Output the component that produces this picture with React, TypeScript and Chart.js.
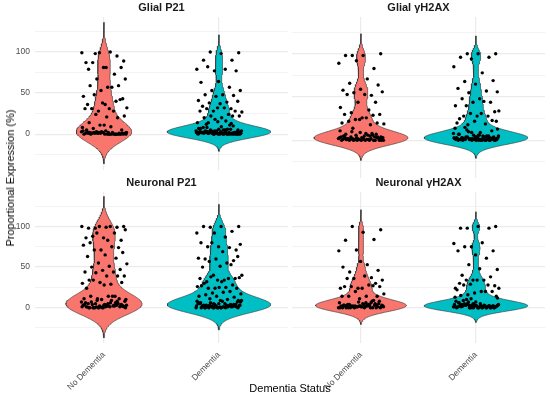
import { useEffect, useRef } from "react"
import { Chart, registerables } from "chart.js"

Chart.register(...registerables)

const groups = ["No Dementia", "Dementia"]
const groupColors = ["#F8766D", "#00BFC4"]
const yGridTicks = [-25, 0, 25, 50, 75, 100, 125]
const yLabelTicks = [0, 50, 100]
const yMin = -43.5
const yMax = 142.5

// Proportional expression (%) per case
const glialP21NoDementia = [
  98, 89, 81, 79, 95, 99, 99, 100, 87, 81, 81, 87, 73, 67, 67, 57, 59, 59, 53, 46, 57, 48, 43, 36, 36, 40, 28, 32,
  31, 31, 42, 38, 31, 28, 24, 22, 21, 14, 20, 11, 8, 9, 7, 5, 11, 5,
  0, 1, 0, 2, 0, 1, 3, 0, 2, 1, 0, 4, 1, 0, 2, 3, 0, 1, 0, 2, 1, 0, 3, 1, 0, 2, 0, 1, 4, 0, 2, 1, 0, 3, 0, 1, 2, 0, 1, 0,
]
const glialP21Dementia = [
  100, 99, 98, 90, 90, 77, 79, 79, 82, 77, 64, 63, 57, 53, 53, 48, 48, 47, 46, 41, 39, 38, 40, 37, 34, 31, 28, 27, 32,
  31, 28, 32, 28, 24, 22, 22, 20, 20, 22, 18, 14, 16, 14,
  0, 1, 2, 0, 3, 1, 5, 2, 0, 4, 1, 6, 2, 0, 3, 8, 1, 0, 2, 5, 3, 1, 0, 7, 2, 4, 0, 1, 3, 10, 2, 0, 5, 1, 3, 0, 2, 6, 1,
  4, 0, 12, 2, 1, 3, 0, 5, 2, 9, 1, 0, 4, 2, 3, 1, 0, 6, 2, 11, 1, 3, 0, 4, 2, 1, 7, 0, 3, 5, 1, 2, 13, 0, 4, 1, 8, 2,
  15, 3, 1,
]
const glialH2axNoDementia = [
  98, 100, 98, 98, 83, 92, 89, 71, 66, 64, 59, 58, 52, 55, 56, 53, 53, 44, 44, 38, 35, 32, 30, 26, 30, 29, 24, 19, 26,
  22, 20, 24, 20, 18, 14,
  0, 2, 1, 4, 0, 3, 6, 1, 2, 0, 5, 8, 1, 3, 0, 2, 7, 1, 4, 0, 10, 2, 1, 3, 0, 6, 2, 1, 0, 4, 9, 1, 2, 0, 3, 5, 1, 0, 2,
  11, 1, 4, 0, 3, 2, 6, 1, 0, 8, 2, 3, 1, 0, 5, 2, 4, 1, 7, 0, 3,
]
const glialH2axDementia = [
  100, 100, 100, 96, 96, 94, 85, 78, 68, 69, 65, 60, 57, 55, 56, 48, 48, 44, 44, 40, 45, 40, 33, 28, 25, 28, 31, 34,
  31, 28, 23, 22, 20, 19, 18, 22,
  0, 1, 3, 0, 2, 5, 1, 4, 0, 7, 2, 1, 3, 9, 0, 2, 6, 1, 4, 12, 0, 3, 1, 5, 2, 8, 0, 1, 3, 4, 2, 0, 10, 1, 6, 3, 0, 2,
  14, 1, 4, 0, 2, 7, 3, 1, 5, 0, 2, 11, 1, 3, 0, 4, 2, 6, 1, 0, 9, 3, 2, 15, 1, 4, 0, 5, 2, 13, 1, 3,
]
const neuronalP21NoDementia = [
  98, 100, 99, 98, 99, 100, 100, 100, 88, 83, 86, 86, 92, 92, 96, 83, 80, 74, 71, 77, 75, 71, 68, 65, 63, 61, 55, 54,
  51, 50, 47, 46, 44, 44, 43, 39, 39, 34, 39, 31, 30, 29, 34, 31, 28, 24, 14, 11, 10, 14, 14, 11, 10, 11, 14,
  0, 2, 1, 5, 3, 0, 7, 1, 4, 2, 0, 6, 3, 1, 8, 2, 0, 5, 1, 3, 9, 0, 2, 4, 1, 6, 0, 3, 2, 7, 1, 0, 4, 2, 5, 1, 3, 0, 8,
  2, 1, 6, 0, 4, 3, 1, 2, 9, 0, 5,
]
const neuronalP21Dementia = [
  99, 100, 100, 100, 94, 92, 92, 87, 75, 71, 75, 80, 74, 80, 78, 69, 60, 58, 60, 61, 55, 57, 63, 51, 50, 53, 40, 40,
  34, 32, 36, 34, 36, 36, 38, 37, 32, 30, 28, 24, 26, 25, 24, 24, 25, 27, 20, 18, 17, 19, 16, 13, 14, 14, 10, 11, 9,
  0, 1, 3, 0, 2, 5, 1, 4, 0, 6, 2, 1, 3, 8, 0, 2, 1, 5, 3, 0, 7, 1, 2, 4, 0, 9, 1, 3, 2, 0, 5, 1, 6, 2, 0, 3, 1, 4, 8,
  0, 2, 1, 5, 0, 3, 2, 7, 1, 0, 4, 2, 6, 1, 3, 0, 9, 2, 1, 5, 0,
]
const neuronalH2axNoDementia = [
  100, 96, 93, 83, 84, 71, 70, 53, 44, 46, 57, 50, 37, 36, 34, 39, 36, 30, 24, 24, 28, 26, 26, 24, 26, 27, 20, 17, 14,
  14, 14, 11, 14,
  0, 2, 1, 4, 0, 3, 1, 6, 2, 0, 5, 1, 3, 8, 0, 2, 1, 4, 0, 7, 2, 3, 1, 0, 5, 2, 9, 1, 0, 3, 4, 1, 2, 0, 6, 1, 3, 0, 2,
  5, 1, 0, 4, 2, 8, 1, 3, 0, 2, 1, 6, 0, 3, 2, 1,
]
const neuronalH2axDementia = [
  98, 100, 100, 98, 98, 75, 79, 80, 75, 70, 65, 70, 61, 53, 47, 48, 40, 38, 34, 24, 34, 34, 27, 34, 30, 28, 29, 24,
  20, 28, 20, 18, 22, 20, 16, 14,
  0, 1, 2, 0, 4, 1, 3, 0, 2, 6, 1, 0, 3, 5, 2, 1, 0, 8, 2, 4, 1, 0, 3, 2, 11, 1, 0, 5, 2, 3, 1, 0, 7, 2, 1, 4, 0, 2, 13,
  1, 3, 0, 2, 6, 1, 0, 4, 2, 9, 1, 3, 0, 2, 5, 1, 0, 15, 2, 3, 1, 0, 4, 2, 7, 1, 0, 3, 12, 1, 2, 0, 5, 1, 3, 10,
]

const FONT = "'Liberation Sans', Arial, sans-serif"

// bw.nrd0 like R
function bandwidth(values: number[]) {
  const n = values.length
  const mean = values.reduce((a, b) => a + b, 0) / n
  const sd = Math.sqrt(values.reduce((a, b) => a + (b - mean) ** 2, 0) / (n - 1))
  const sorted = [...values].sort((a, b) => a - b)
  const q = (p: number) => {
    const h = (n - 1) * p
    const lo = Math.floor(h)
    return sorted[lo] + (h - lo) * (sorted[Math.min(lo + 1, n - 1)] - sorted[lo])
  }
  const lo = Math.min(sd, (q(0.75) - q(0.25)) / 1.34) || sd || 1
  return 0.9 * lo * Math.pow(n, -0.2)
}

// gaussian kde over min - 3bw .. max + 3bw (geom_violin with trim = FALSE)
function kde(values: number[]) {
  const bw = bandwidth(values)
  const from = Math.min(...values) - 3 * bw
  const to = Math.max(...values) + 3 * bw
  const steps = 200
  const ys: number[] = []
  const dens: number[] = []
  for (let s = 0; s <= steps; s++) {
    const y = from + ((to - from) * s) / steps
    let sum = 0
    for (const v of values) sum += Math.exp(-0.5 * ((y - v) / bw) ** 2)
    ys.push(y)
    dens.push(sum / (values.length * bw * Math.sqrt(2 * Math.PI)))
  }
  return { ys, dens }
}

// deterministic stand-in for geom_jitter(width = 0.2)
const jitter = (i: number) => ((i * 0.6180339887 + 0.31) % 1 - 0.5) * 0.4

type PanelProps = {
  title: string
  noDementia: number[]
  dementia: number[]
  left: number
  top: number
  width: number
  height: number
  showY: boolean
  showX: boolean
}

function Panel({ title, noDementia, dementia, left, top, width, height, showY, showX }: PanelProps) {
  const chartRef = useRef<HTMLCanvasElement>(null)
  const chartInstanceRef = useRef<Chart | null>(null)

  useEffect(() => {
    if (!chartRef.current) return
    const ctx = chartRef.current.getContext("2d")
    if (!ctx) return

    if (chartInstanceRef.current) chartInstanceRef.current.destroy()

    const series = [noDementia, dementia]
    const shapes = series.map((v) => kde(v))
    // scale = "area": widest density in the panel gets the full 0.9 width
    const peak = Math.max(...shapes.flatMap((s) => s.dens))

    const datasets: any[] = []
    series.forEach((values, g) => {
      const centre = g + 1
      const { ys, dens } = shapes[g]
      const right = ys.map((y, i) => ({ x: centre + (dens[i] / peak) * 0.45, y }))
      const leftSide = ys.map((y, i) => ({ x: centre - (dens[i] / peak) * 0.45, y })).reverse()
      datasets.push({
        label: groups[g],
        data: [...right, ...leftSide, right[0]],
        showLine: true,
        fill: "shape",
        backgroundColor: groupColors[g],
        borderColor: "#333333",
        borderWidth: 0.6,
        pointRadius: 0,
        tension: 0,
        order: 1,
      })
      datasets.push({
        label: groups[g] + " cases",
        data: values.map((v, i) => ({ x: centre + jitter(i), y: v })),
        pointRadius: 1.7,
        pointBackgroundColor: "#000000",
        pointBorderWidth: 0,
        showLine: false,
        order: 0,
      })
    })

    chartInstanceRef.current = new Chart(ctx, {
      type: "scatter",
      data: { datasets },
      options: {
        responsive: false,
        animation: false,
        events: [],
        layout: { autoPadding: false, padding: { left: 0, right: showY ? 2 : 5, top: 0, bottom: 0 } },
        plugins: {
          legend: { display: false },
          tooltip: { enabled: false },
          title: {
            display: true,
            text: title,
            fullSize: false,
            color: "#1A1A1A",
            font: { family: FONT, size: 11, weight: "bold" },
            padding: { top: showX ? 6 : 1, bottom: 2.8 },
          },
        },
        scales: {
          x: {
            type: "linear",
            min: 0.4,
            max: 2.6,
            afterBuildTicks: (scale: any) => {
              scale.ticks = groups.map((_, i) => ({ value: i + 1 }))
            },
            afterFit: (scale: any) => {
              scale.height = showX ? 59 : 2
            },
            border: { display: false },
            grid: { color: "#EBEBEB", lineWidth: 1.2, drawTicks: false },
            ticks: {
              display: showX,
              autoSkip: false,
              maxRotation: 45,
              minRotation: 45,
              padding: 7,
              color: "#4D4D4D",
              font: { family: FONT, size: 8.5 },
              callback: (value: any) => groups[Number(value) - 1] ?? "",
            },
          },
          y: {
            type: "linear",
            min: yMin,
            max: yMax,
            afterBuildTicks: (scale: any) => {
              scale.ticks = yGridTicks.map((v) => ({ value: v }))
            },
            afterFit: (scale: any) => {
              scale.width = showY ? 35 : 2
            },
            border: { display: false },
            grid: {
              color: "#EBEBEB",
              lineWidth: (c: any) => (yLabelTicks.includes(c.tick?.value) ? 1.2 : 0.6),
              drawTicks: false,
            },
            ticks: {
              display: showY,
              autoSkip: false,
              padding: 5,
              color: "#4D4D4D",
              font: { family: FONT, size: 8.5 },
              callback: (value: any) => (yLabelTicks.includes(Number(value)) ? String(value) : ""),
            },
          },
        },
      },
    } as any)

    return () => {
      if (chartInstanceRef.current) {
        chartInstanceRef.current.destroy()
        chartInstanceRef.current = null
      }
    }
  }, [])

  return (
    <canvas
      ref={chartRef}
      width={width}
      height={height}
      style={{ position: "absolute", left, top, width, height }}
    />
  )
}

export default function App() {
  return (
    <div
      style={{
        position: "fixed",
        left: 0,
        top: 0,
        width: 550,
        height: 402,
        background: "#ffffff",
        fontFamily: FONT,
      }}
    >
      <Panel title="Glial P21" noDementia={glialP21NoDementia} dementia={glialP21Dementia}
        left={0} top={0} width={290} height={180} showY showX={false} />
      <Panel title="Glial γH2AX" noDementia={glialH2axNoDementia} dementia={glialH2axDementia}
        left={290} top={0} width={260} height={180} showY={false} showX={false} />
      <Panel title="Neuronal P21" noDementia={neuronalP21NoDementia} dementia={neuronalP21Dementia}
        left={0} top={170} width={290} height={232} showY showX />
      <Panel title="Neuronal γH2AX" noDementia={neuronalH2axNoDementia} dementia={neuronalH2axDementia}
        left={290} top={170} width={260} height={232} showY={false} showX />
      <div
        style={{
          position: "absolute",
          left: 9.5,
          top: 178,
          transform: "translate(-50%, -50%) rotate(-90deg)",
          whiteSpace: "nowrap",
          fontSize: 11,
          color: "#000000",
        }}
      >
        Proportional Expression (%)
      </div>
      <div
        style={{
          position: "absolute",
          left: 290,
          top: 388,
          transform: "translate(-50%, -50%)",
          whiteSpace: "nowrap",
          fontSize: 11,
          color: "#000000",
        }}
      >
        Dementia Status
      </div>
    </div>
  )
}
